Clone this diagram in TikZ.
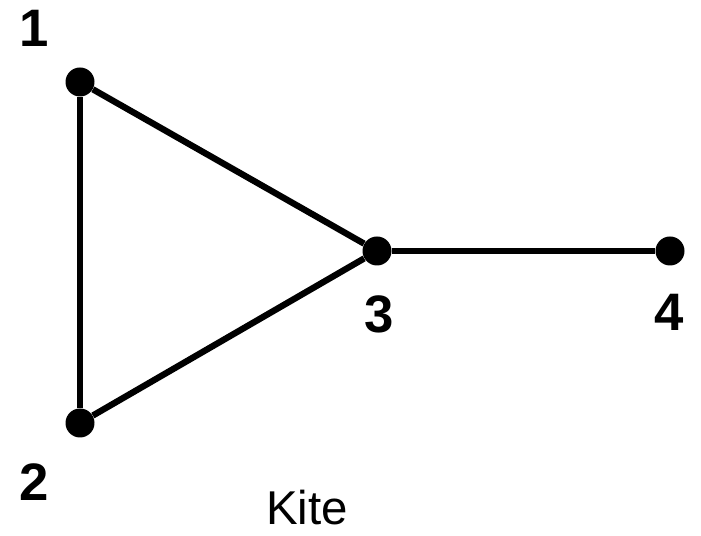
\documentclass[tikz,border=0pt]{standalone}
\usepackage{fontspec}
\setmainfont{Liberation Sans}
\usepackage{tikz}
\usetikzlibrary{positioning}

\begin{document}
\begin{tikzpicture}[
  vertex/.style={circle, fill=black, inner sep=0pt, minimum size=0.58cm},
  edge/.style={line width=3.6pt},
  num/.style={font=\fontsize{30}{36}\selectfont\bfseries, inner sep=0pt},
  caption/.style={font=\fontsize{27}{32}\selectfont, inner sep=0pt, anchor=base},
]
\useasboundingbox (0,0) rectangle (14.02,10.72);

% --- Vertices ---
\node[vertex] (v1) at (1.60,9.08) {};
\node[vertex] (v2) at (1.60,2.26) {};
\node[vertex] (v3) at (7.54,5.70) {};
\node[vertex] (v4) at (13.40,5.70) {};

% --- Labels ---
\node[num] (l1) at (0.68,10.16) {1};
\node[num] (l2) at (0.68,1.08) {2};
\node[num] (l3) at (7.58,4.44) {3};
\node[num] (l4) at (13.38,4.48) {4};
\node[caption] (kite) at (6.14,0.22) {Kite};

% --- Edges ---
\draw[edge] (v1) -- (v2);
\draw[edge] (v1) -- (v3);
\draw[edge] (v2) -- (v3);
\draw[edge] (v3) -- (v4);

\end{tikzpicture}
\end{document}
